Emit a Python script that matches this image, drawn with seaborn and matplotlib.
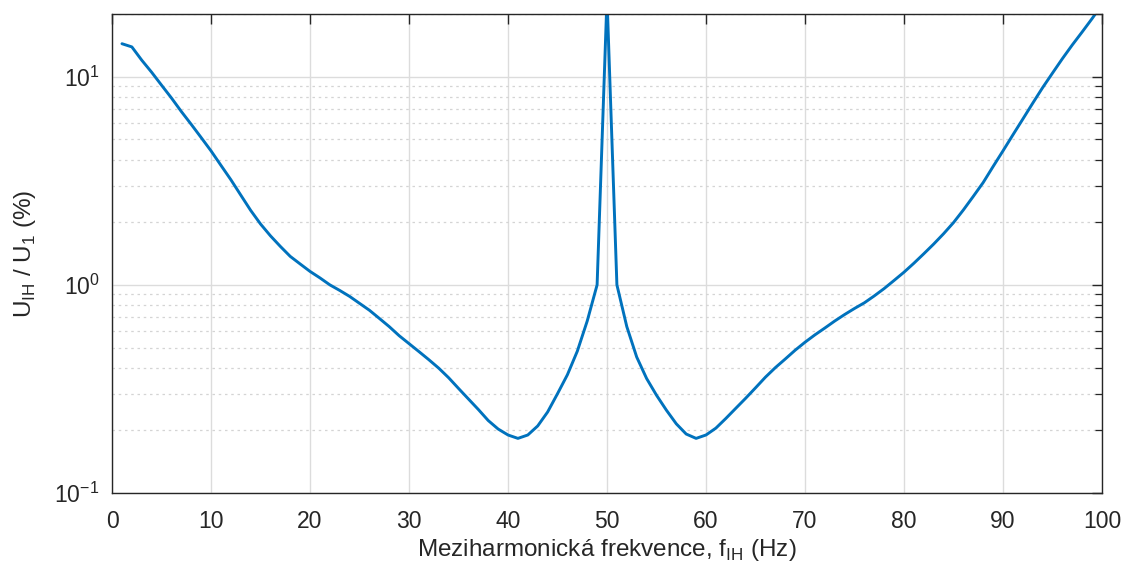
import numpy as np
import pandas as pd
import seaborn as sns
import matplotlib
matplotlib.use("Agg")
import matplotlib.pyplot as plt
from matplotlib.ticker import LogLocator, NullFormatter

# interharmonic frequency (Hz), 1..100 in 1 Hz steps
freq = list(range(1, 101))
# relative voltage U_IH / U_1 (%)
ratio = [14.4, 13.9, 12.0, 10.5, 9.1, 7.9, 6.8, 5.9, 5.1, 4.4,
         3.75, 3.2, 2.7, 2.28, 1.96, 1.72, 1.53, 1.37, 1.26, 1.16,
         1.08, 1.0, 0.94, 0.88, 0.815, 0.755, 0.69, 0.63, 0.57, 0.522,
         0.478, 0.437, 0.398, 0.358, 0.318, 0.283, 0.252, 0.223, 0.203, 0.19,
         0.183, 0.19, 0.21, 0.245, 0.30, 0.37, 0.48, 0.67, 1.0, 24.0,
         1.0, 0.63, 0.45, 0.355, 0.295, 0.25, 0.215, 0.192, 0.183, 0.19,
         0.205, 0.228, 0.255, 0.285, 0.32, 0.36, 0.40, 0.44, 0.485, 0.53,
         0.575, 0.62, 0.67, 0.72, 0.77, 0.82, 0.885, 0.96, 1.05, 1.15,
         1.27, 1.41, 1.57, 1.76, 1.99, 2.29, 2.66, 3.1, 3.7, 4.4,
         5.25, 6.25, 7.45, 8.85, 10.4, 12.2, 14.2, 16.4, 19.0, 22.2]

df = pd.DataFrame({'f': freq, 'u': ratio})

sns.set_style("white")
plt.rcParams['font.family'] = ['Liberation Sans', 'DejaVu Sans']
plt.rcParams['mathtext.fontset'] = 'custom'
plt.rcParams['mathtext.rm'] = 'Liberation Sans'

txt = '#262626'
fig = plt.figure(figsize=(11.33, 5.79), dpi=100)
ax = fig.add_axes([0.0989, 0.1485, 0.8737, 0.8273])

sns.lineplot(data=df, x='f', y='u', ax=ax, color='#0072BD', linewidth=2.1)

ax.set_yscale('log')
ax.set_xlim(0, 100)
ax.set_ylim(0.1, 20)
ax.set_xticks(range(0, 101, 10))
ax.yaxis.set_major_locator(LogLocator(base=10, numticks=10))
ax.yaxis.set_minor_locator(LogLocator(base=10, subs=np.arange(2, 10), numticks=20))
ax.yaxis.set_minor_formatter(NullFormatter())

ax.grid(True, which='major', color='#dcdcdc', linewidth=1.0)
ax.grid(True, which='minor', axis='y', color='#d4d4d4', linestyle=(0, (2, 3)), linewidth=0.9)
ax.set_axisbelow(True)

ax.tick_params(which='both', direction='in', top=True, right=True, colors=txt,
               labelsize=16.5, labelcolor=txt)
ax.tick_params(which='major', length=7, width=1.0)
ax.tick_params(which='minor', length=5, width=0.9)
ax.tick_params(axis='x', which='major', pad=12)
ax.tick_params(axis='y', which='major', pad=9)
for s in ax.spines.values():
    s.set_color(txt)
    s.set_linewidth(1.0)

ax.set_xlabel(r'Meziharmonická frekvence, f$_{\mathregular{IH}}$ (Hz)', fontsize=17.5, color=txt, labelpad=3)
ax.set_ylabel(r'U$_{\mathregular{IH}}$ / U$_{\mathregular{1}}$ (%)', fontsize=17.5, color=txt, labelpad=12)

fig.savefig('out.png', dpi=100)
